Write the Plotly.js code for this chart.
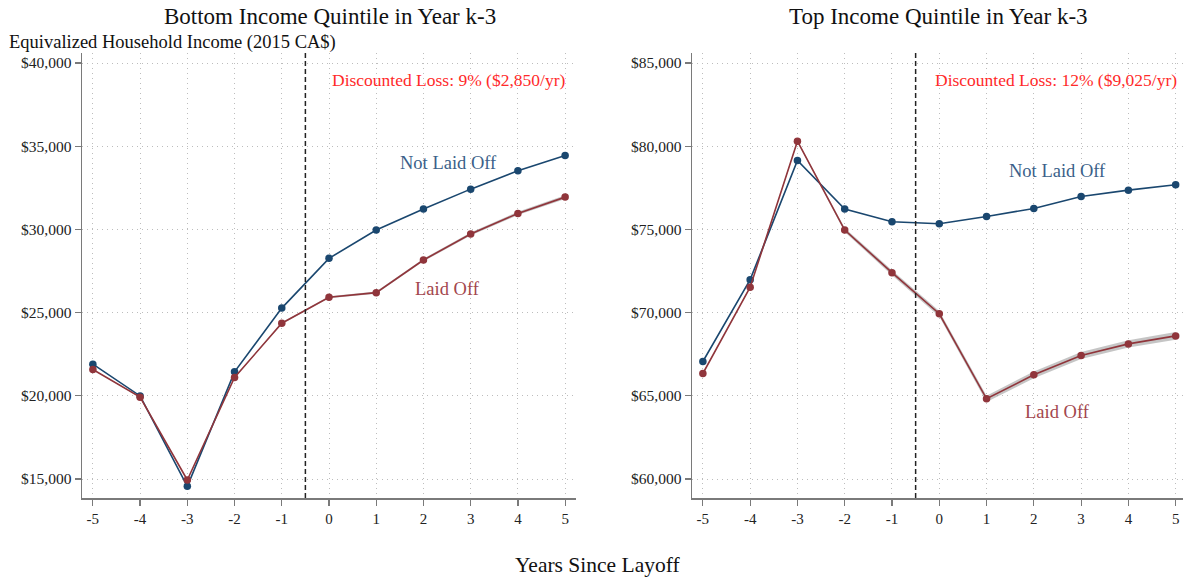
<!DOCTYPE html>
<html>
<head>
<meta charset="utf-8">
<script src="https://cdn.plot.ly/plotly-3.0.1.min.js"></script>
<style>html,body{margin:0;padding:0;background:#fff;}#chart{width:1183px;height:577px;}</style>
</head>
<body>
<div id="chart"></div>
<script>
const years = [-5, -4, -3, -2, -1, 0, 1, 2, 3, 4, 5];

// Bottom income quintile
const bottomNotLaidOff = [21900, 19990, 14560, 21440, 25270, 28260, 29960, 31220, 32420, 33520, 34440];
const bottomLaidOff    = [21580, 19920, 14940, 21100, 24360, 25920, 26200, 28160, 29720, 30960, 31940];
const bottomLaidOffCI  = [20, 20, 20, 30, 40, 60, 70, 80, 90, 100, 110];

// Top income quintile
const topNotLaidOff = [67060, 71980, 79140, 76220, 75460, 75340, 75780, 76260, 76980, 77360, 77680];
const topLaidOff    = [66340, 71530, 80300, 74960, 72400, 69930, 64820, 66260, 67420, 68120, 68600];
const topLaidOffCI  = [30, 40, 60, 120, 150, 170, 190, 200, 210, 220, 230];

const bottomTicks = [15000, 20000, 25000, 30000, 35000, 40000];
const bottomTickText = ["$15,000", "$20,000", "$25,000", "$30,000", "$35,000", "$40,000"];
const topTicks = [60000, 65000, 70000, 75000, 80000, 85000];
const topTickText = ["$60,000", "$65,000", "$70,000", "$75,000", "$80,000", "$85,000"];
const xTicks = [-5, -4, -3, -2, -1, 0, 1, 2, 3, 4, 5];

const titles = ["Bottom Income Quintile in Year k-3", "Top Income Quintile in Year k-3"];
const lossLabels = ["Discounted Loss: 9% ($2,850/yr)", "Discounted Loss: 12% ($9,025/yr)"];

const BLUE = "#1a476f";
const RED = "#90353b";
const FONT = "Liberation Serif, DejaVu Serif, serif";

function band(xa, ya, vals, ci) {
  const lo = vals.map((v, i) => v - ci[i]);
  const hi = vals.map((v, i) => v + ci[i]);
  return [
    {x: years, y: lo, xaxis: xa, yaxis: ya, mode: "lines", line: {width: 0, color: "rgba(0,0,0,0)"}, hoverinfo: "skip", showlegend: false},
    {x: years, y: hi, xaxis: xa, yaxis: ya, mode: "lines", fill: "tonexty", fillcolor: "rgba(150,150,150,0.55)", line: {width: 0, color: "rgba(0,0,0,0)"}, hoverinfo: "skip", showlegend: false}
  ];
}
function series(xa, ya, vals, color) {
  return {x: years, y: vals, xaxis: xa, yaxis: ya, mode: "lines+markers",
    line: {color: color, width: 1.6}, marker: {color: color, size: 7.5}, showlegend: false};
}

const data = [
  ...band("x", "y", bottomLaidOff, bottomLaidOffCI),
  series("x", "y", bottomNotLaidOff, BLUE),
  series("x", "y", bottomLaidOff, RED),
  ...band("x2", "y2", topLaidOff, topLaidOffCI),
  series("x2", "y2", topNotLaidOff, BLUE),
  series("x2", "y2", topLaidOff, RED)
];

const W = 1183, H = 577;
const yDom = [1 - 498 / H, 1 - 53 / H];
const GRID = "#bdbdbd";

function xaxis(domain, range) {
  return {domain: domain, range: range, tickvals: xTicks, ticktext: xTicks.map(String),
    showgrid: true, gridcolor: GRID, griddash: "1px,4px", gridwidth: 1,
    zeroline: false, showline: true, linecolor: "#7a7a7a", linewidth: 1.5,
    ticks: "outside", ticklen: 6, tickcolor: "#7a7a7a", tickwidth: 1.2,
    tickfont: {family: FONT, size: 15, color: "#222"}, fixedrange: true};
}
function yaxis(anchor, range, ticks, text) {
  return {domain: yDom, anchor: anchor, range: range, tickvals: ticks, ticktext: text,
    showgrid: true, gridcolor: GRID, griddash: "1px,4px", gridwidth: 1,
    zeroline: false, showline: true, linecolor: "#7a7a7a", linewidth: 1.5,
    ticks: "outside", ticklen: 6, tickcolor: "#7a7a7a", tickwidth: 1.2,
    tickfont: {family: FONT, size: 15.5, color: "#222"}, fixedrange: true};
}

const layout = {
  width: W, height: H,
  margin: {l: 0, r: 0, t: 0, b: 0},
  paper_bgcolor: "#fff", plot_bgcolor: "#fff",
  showlegend: false,
  font: {family: FONT, color: "#222"},
  xaxis: Object.assign(xaxis([82 / W, 576 / W], [-5.23, 5.23]), {anchor: "y"}),
  yaxis: yaxis("x", [13858, 40601], bottomTicks, bottomTickText),
  xaxis2: Object.assign(xaxis([692 / W, 1], [-5.23, 5.155]), {anchor: "y2"}),
  yaxis2: yaxis("x2", [58858, 85601], topTicks, topTickText),
  shapes: [
    {type: "line", xref: "x", yref: "y domain", x0: -0.5, x1: -0.5, y0: 0, y1: 1, line: {color: "#222", width: 1.5, dash: "5px,3px"}},
    {type: "line", xref: "x2", yref: "y2 domain", x0: -0.5, x1: -0.5, y0: 0, y1: 1, line: {color: "#222", width: 1.5, dash: "5px,3px"}}
  ],
  annotations: [
    {text: titles[0], xref: "paper", yref: "paper", x: 330 / W, y: 1 - 17 / H, xanchor: "center", yanchor: "middle", showarrow: false, font: {family: FONT, size: 23, color: "#111"}},
    {text: titles[1], xref: "paper", yref: "paper", x: 938 / W, y: 1 - 17 / H, xanchor: "center", yanchor: "middle", showarrow: false, font: {family: FONT, size: 23, color: "#111"}},
    {text: "Equivalized Household Income (2015 CA$)", xref: "paper", yref: "paper", x: 7 / W, y: 1 - 42 / H, xanchor: "left", yanchor: "middle", showarrow: false, font: {family: FONT, size: 18.5, color: "#111"}},
    {text: "Years Since Layoff", xref: "paper", yref: "paper", x: 597 / W, y: 1 - 565 / H, xanchor: "center", yanchor: "middle", showarrow: false, font: {family: FONT, size: 21.5, color: "#111"}},
    {text: lossLabels[0], xref: "x", yref: "y", x: 5.03, y: 39000, xanchor: "right", yanchor: "middle", showarrow: false, font: {family: FONT, size: 17.5, color: "#ff2a2a"}},
    {text: lossLabels[1], xref: "x2", yref: "y2", x: 5.07, y: 84000, xanchor: "right", yanchor: "middle", showarrow: false, font: {family: FONT, size: 17.5, color: "#ff2a2a"}},
    {text: "Not Laid Off", xref: "x", yref: "y", x: 2.52, y: 33990, xanchor: "center", yanchor: "middle", showarrow: false, font: {family: FONT, size: 18.5, color: "#3b5f89"}},
    {text: "Laid Off", xref: "x", yref: "y", x: 2.5, y: 26420, xanchor: "center", yanchor: "middle", showarrow: false, font: {family: FONT, size: 18.5, color: "#a3474d"}},
    {text: "Not Laid Off", xref: "x2", yref: "y2", x: 2.49, y: 78510, xanchor: "center", yanchor: "middle", showarrow: false, font: {family: FONT, size: 18.5, color: "#3b5f89"}},
    {text: "Laid Off", xref: "x2", yref: "y2", x: 2.49, y: 64030, xanchor: "center", yanchor: "middle", showarrow: false, font: {family: FONT, size: 18.5, color: "#a3474d"}}
  ]
};

Plotly.newPlot("chart", data, layout, {displayModeBar: false, staticPlot: true});
</script>
</body>
</html>
